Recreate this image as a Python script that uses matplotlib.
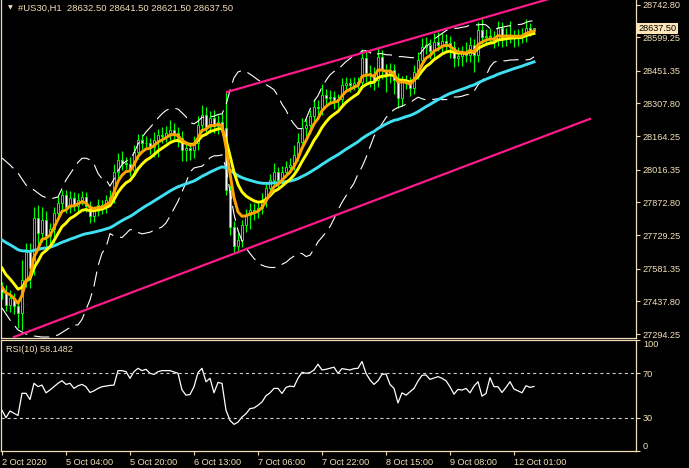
import numpy as np
import pandas as pd
import matplotlib
matplotlib.use("Agg")
from matplotlib import pyplot as plt
from matplotlib.transforms import blended_transform_factory

plt.rcParams["font.family"] = ["Liberation Sans", "DejaVu Sans"]
plt.rcParams["lines.scale_dashes"] = False

# ---- data (US30, H1) ----
first_open = 27500.0
closes = [
    27479.0, 27421.8, 27452.6, 27417.4, 27386.6, 27531.7, 27654.8, 27584.5, 27804.3, 27738.3,
    27795.5, 27725.1, 27755.9, 27826.3, 27870.2, 27905.4, 27852.6, 27892.2, 27857.0, 27883.4,
    27896.6, 27857.0, 27813.1, 27835.0, 27861.4, 27852.6, 27883.4, 27896.6, 28006.5, 28059.2,
    28046.1, 28041.7, 28015.3, 28094.4, 28147.2, 28134.0, 28134.0, 28116.4, 28147.2, 28169.1,
    28164.7, 28177.9, 28191.1, 28177.9, 28156.0, 28103.2, 28112.0, 28103.2, 28134.0, 28213.1,
    28257.1, 28204.3, 28243.9, 28208.7, 28226.3, 28199.9, 27927.4, 27764.7, 27681.2, 27707.6,
    27773.5, 27817.5, 27839.4, 27835.0, 27848.2, 27883.4, 27936.2, 27971.3, 28006.5, 27971.3,
    28006.5, 28028.5, 28037.3, 28081.2, 28138.4, 28199.9, 28213.1, 28252.7, 28292.2, 28287.8,
    28345.0, 28331.8, 28336.2, 28323.0, 28327.4, 28388.9, 28397.7, 28388.9, 28397.7, 28402.1,
    28507.6, 28441.7, 28437.3, 28410.9, 28512.0, 28454.9, 28437.3, 28454.9, 28410.9, 28331.8,
    28402.1, 28397.7, 28375.8, 28446.1, 28498.8, 28556.0, 28564.8, 28538.4, 28578.0, 28564.8,
    28582.4, 28573.6, 28556.0, 28507.6, 28516.4, 28529.6, 28520.8, 28564.8, 28520.8, 28630.7,
    28599.9, 28604.3, 28599.9, 28586.8, 28639.5, 28595.6, 28608.7, 28604.3, 28599.9, 28604.3,
    28604.3, 28639.5, 28632.5, 28637.5,
]
# distance from body to high / low (points)
wick_up = [
    25, 30, 35, 20, 25, 88, 40, 40, 48, 57, 55, 40, 25, 26, 30, 20, 20, 30, 25, 30,
    25, 20, 20, 20, 25, 20, 20, 30, 35, 30, 40, 25, 30, 30, 25, 25, 30, 20, 35, 25,
    35, 30, 45, 30, 25, 30, 30, 25, 30, 40, 45, 35, 30, 35, 30, 40, 158, 20, 25, 30,
    20, 25, 30, 30, 25, 30, 20, 25, 40, 20, 25, 25, 30, 45, 40, 45, 30, 25, 35, 30,
    50, 25, 30, 25, 20, 30, 25, 20, 25, 20, 40, 30, 35, 30, 44, 30, 25, 30, 25, 30,
    25, 30, 25, 30, 35, 40, 35, 25, 40, 45, 35, 30, 30, 25, 40, 30, 50, 35, 25, 36,
    55, 30, 35, 25, 30, 25, 30, 62, 25, 30, 35, 40, 20, 4,
]
wick_dn = [
    30, 25, 30, 35, 66, 75, 30, 90, 30, 60, 40, 45, 30, 61, 25, 30, 25, 25, 20, 30,
    20, 25, 31, 25, 20, 30, 25, 20, 25, 40, 30, 20, 25, 20, 30, 25, 25, 30, 45, 75,
    30, 25, 30, 25, 40, 50, 50, 44, 35, 30, 30, 25, 25, 30, 35, 30, 20, 35, 26, 25,
    30, 30, 60, 40, 30, 25, 30, 20, 25, 30, 20, 20, 25, 20, 25, 30, 35, 40, 25, 40,
    30, 30, 25, 40, 35, 25, 20, 30, 20, 25, 30, 40, 55, 45, 30, 40, 79, 40, 60, 45,
    35, 25, 35, 25, 30, 25, 30, 35, 30, 25, 30, 35, 50, 40, 35, 45, 30, 30, 75, 30,
    30, 25, 30, 35, 25, 40, 35, 30, 45, 40, 30, 25, 30, 11,
]
rsi = [
    36.7, 30.0, 36.0, 34.0, 32.0, 52.0, 52.0, 46.4, 61.0, 58.0,
    59.4, 52.4, 55.0, 58.0, 61.0, 63.3, 60.0, 61.0, 56.4, 58.8,
    60.0, 57.9, 52.7, 54.2, 56.4, 57.9, 58.5, 59.1, 59.4, 72.4,
    72.4, 71.5, 65.5, 71.5, 74.5, 72.4, 73.6, 70.0, 69.0, 71.5,
    72.4, 72.4, 72.4, 71.2, 70.0, 55.0, 50.3, 50.9, 57.9, 70.6,
    74.5, 62.4, 65.5, 52.4, 61.8, 60.9, 36.7, 27.6, 24.0, 26.0,
    30.6, 33.6, 38.2, 38.8, 41.2, 44.2, 49.8, 52.4, 56.4, 56.4,
    51.8, 57.3, 58.5, 57.9, 65.5, 70.9, 70.0, 70.6, 73.0, 78.2,
    73.0, 73.6, 74.5, 75.5, 70.0, 74.2, 73.6, 73.0, 74.2, 74.5,
    80.6, 70.0, 64.0, 60.0, 63.3, 69.0, 69.4, 60.0, 56.4, 43.3,
    52.4, 50.3, 53.3, 56.4, 63.0, 68.2, 68.5, 64.5, 65.8, 67.0,
    65.5, 63.3, 57.9, 51.2, 55.5, 54.9, 56.4, 52.4, 58.5, 62.4,
    49.4, 51.8, 66.1, 57.9, 57.9, 52.7, 57.3, 62.4, 55.8, 54.2,
    52.4, 58.8, 57.3, 58.15,
]
rsi_last = "58.1482"
# bollinger band values read for the first bars (every 2 bars, 0..18)
bb_head_idx = [0, 2, 4, 6, 8, 10, 12, 14, 16, 18]
bb_head_up = [28068.0, 28037.3, 28002.1, 27949.3, 27927.4, 27901.0, 27887.8, 27896.6, 27971.3, 28024.1]
bb_head_lo = [27408.6, 27355.9, 27312.0, 27294.3, 27285.5, 27281.1, 27281.1, 27289.9, 27312.0, 27333.9]
# moving average start values at bar 0
seed_fast, seed_slow, seed_long = 27500.9, 27584.5, 27707.6
# channel trendlines (bar index, price)
chan_up_x, chan_up_y = [56.25, 146.75], [28358.0, 28818.0]
chan_lo_x, chan_lo_y = [3.0, 147.0], [27281.0, 28240.0]

price_ticks = [28742.80, 28599.25, 28451.35, 28307.80, 28164.25, 28016.35,
               27872.80, 27729.25, 27581.35, 27437.80, 27294.25]
time_idx = [0, 16, 32, 48, 64, 80, 96, 112, 128]
time_labels = ["2 Oct 2020", "5 Oct 04:00", "5 Oct 20:00", "6 Oct 13:00", "7 Oct 06:00",
               "7 Oct 22:00", "8 Oct 15:00", "9 Oct 08:00", "12 Oct 01:00"]
last_bar = (28632.50, 28641.50, 28621.50, 28637.50)

# ---- derived series ----
closes = np.array(closes)
opens = np.concatenate([[first_open], closes[:-1]])
highs = np.maximum(opens, closes) + np.array(wick_up)
lows = np.minimum(opens, closes) - np.array(wick_dn)
x = np.arange(len(closes))


def ema(vals, n, seed):
    a = 2.0 / (n + 1)
    out = [seed]
    for v in vals[1:]:
        out.append(out[-1] + a * (v - out[-1]))
    return np.array(out)


fast = ema(closes, 5, seed_fast)
slow = ema(closes, 10, seed_slow)
longma = ema(closes, 50, seed_long)
roll = pd.Series(closes).rolling(20)
mid, sd = roll.mean().values, roll.std(ddof=0).values
bb_x = np.concatenate([bb_head_idx, x[19:]])
bb_up = np.concatenate([bb_head_up, (mid + 2 * sd)[19:]])
bb_lo = np.concatenate([bb_head_lo, (mid - 2 * sd)[19:]])

# ---- figure ----
fg = "#f2dfb8"
W, H = 689, 468
fig = plt.figure(figsize=(W / 100, H / 100), dpi=100, facecolor="black")
ax = fig.add_axes([1 / W, 130 / H, 635 / W, 338 / H], facecolor="black")
ax2 = fig.add_axes([1 / W, 17 / H, 635 / W, 111 / H], facecolor="black")

bull = closes >= opens
ax.vlines(x, lows, highs, color="#00ff00", lw=0.9, zorder=2)
ax.bar(x[bull], (closes - opens)[bull], bottom=opens[bull], width=0.55,
       color="black", edgecolor="#00ff00", linewidth=0.7, zorder=2)
ax.bar(x[~bull], (closes - opens)[~bull], bottom=opens[~bull], width=0.55,
       color="white", edgecolor="#00ff00", linewidth=0.7, zorder=2)

ax.plot(bb_x, bb_up, color="white", lw=0.8, dashes=(11, 5), zorder=3)
ax.plot(bb_x, bb_lo, color="white", lw=0.8, dashes=(11, 5), zorder=3)
ax.plot(x, longma, color="#3ee0f2", lw=2.1, zorder=4)
ax.plot(x, slow, color="#ffff00", lw=2.1, zorder=4)
ax.plot(x, fast, color="#ffa500", lw=2.1, zorder=4)
ax.plot(chan_up_x, chan_up_y, color="#ff1a8c", lw=1.6, zorder=5)
ax.plot(chan_lo_x, chan_lo_y, color="#ff1a8c", lw=1.6, zorder=5)

xlim = (-0.25, 158.5)
ax.set_xlim(*xlim)
ax.set_ylim(27276.7, 28762.6)
ax.set_xticks([])
ax.yaxis.tick_right()
ax.set_yticks(price_ticks)
ax.set_yticklabels([f"{p:.2f}" for p in price_ticks])
ax.tick_params(axis="y", colors=fg, labelsize=6.6, length=3, width=0.8, pad=2)
for s in ["left", "right", "bottom"]:
    ax.spines[s].set_color(fg)
    ax.spines[s].set_linewidth(0.9)
ax.spines["top"].set_visible(False)

ax.text(7 / 635, 1 - 8 / 338, "\u25bc", transform=ax.transAxes, color=fg,
        fontsize=4.5, va="center", ha="left", family="DejaVu Sans")
ax.text(17 / 635, 1 - 8 / 338,
        "#US30,H1  " + " ".join(f"{v:.2f}" for v in last_bar),
        transform=ax.transAxes, color=fg, fontsize=6.8, va="center", ha="left")
tr = blended_transform_factory(ax.transAxes, ax.transData)
ax.text(1.0 + 2 / 635, last_bar[3], f"{last_bar[3]:.2f}", transform=tr, color="black",
        fontsize=6.6, va="center", ha="left", zorder=10, clip_on=False,
        bbox=dict(boxstyle="square,pad=0.15", fc="#ffe4b8", ec="none"))

# ---- RSI panel ----
ax2.plot(x, rsi, color="white", lw=0.9)
for lvl in (70, 30):
    ax2.axhline(lvl, color="#d0d0d0", lw=0.8, dashes=(2.2, 2.2))
ax2.set_xlim(*xlim)
ax2.set_ylim(0, 100)
ax2.yaxis.tick_right()
ax2.set_yticks([100, 70, 30, 0])
ax2.set_yticklabels(["100", "70", "30", "0"])
labs = ax2.get_yticklabels()
labs[0].set_va("top")
labs[3].set_va("bottom")
ax2.set_xticks(time_idx)
ax2.set_xticklabels(time_labels, ha="left")
ax2.tick_params(colors=fg, labelsize=6.6, length=3, width=0.8, pad=2)
ax2.tick_params(axis="x", pad=2)
for s in ax2.spines.values():
    s.set_color(fg)
    s.set_linewidth(0.9)
ax2.text(5 / 635, 1 - 9 / 111, f"RSI(10) {rsi_last}", transform=ax2.transAxes,
         color=fg, fontsize=6.6, va="center", ha="left")

fig.savefig("out.png", dpi=100, facecolor="black")
